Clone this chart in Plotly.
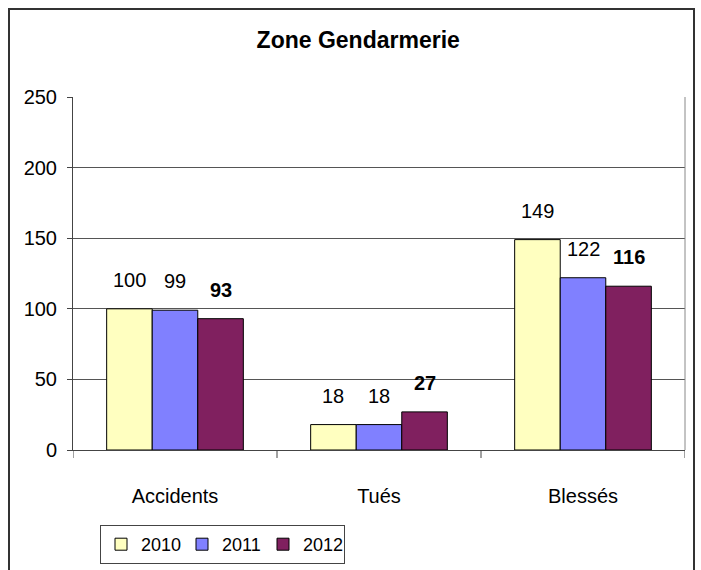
import plotly.graph_objects as go

categories = ["Accidents", "Tués", "Blessés"]
years = ["2010", "2011", "2012"]
values_2010 = [100, 18, 149]
values_2011 = [99, 18, 122]
values_2012 = [93, 27, 116]
y_ticks = [0, 50, 100, 150, 200, 250]

series = [values_2010, values_2011, values_2012]
colors = ["#FFFFC0", "#8080FF", "#80205F"]
bold = [False, False, True]

FONT = "Liberation Sans Narrow, Arial Narrow, Liberation Sans, Arial, sans-serif"
BARGAP = 0.33

fig = go.Figure()
for name, vals, col in zip(years, series, colors):
    fig.add_trace(go.Bar(
        x=list(range(len(categories))), y=vals, name=name,
        marker=dict(color=col, line=dict(color="black", width=1)),
    ))

# data labels above bars (offset computed from bar layout)
bw = (1 - BARGAP) / len(series)
for j, (vals, b) in enumerate(zip(series, bold)):
    for i, v in enumerate(vals):
        fig.add_annotation(
            x=i + (j - (len(series) - 1) / 2) * bw, y=v, xref="x", yref="y",
            text=f"<b>{v}</b>" if b else str(v), showarrow=False,
            yanchor="middle", yshift=29,
            font=dict(family=FONT, size=20, color="black"),
        )

L, R, T, B = 73, 16, 97, 120
W, H = 701, 570
pw, ph = W - L - R, H - T - B

# outer chart border
fig.add_shape(type="rect", xref="paper", yref="paper",
              x0=(9 - L) / pw, x1=(694 - L) / pw,
              y0=-(H + 30 - T - ph) / ph, y1=(T + ph - 9) / ph,
              line=dict(color="#333333", width=2), layer="below")

fig.update_layout(
    width=W, height=H,
    margin=dict(l=L, r=R, t=T, b=B, autoexpand=False),
    paper_bgcolor="white", plot_bgcolor="white",
    barmode="group", bargap=BARGAP, bargroupgap=0,
    title=dict(text="<b>Zone Gendarmerie</b>", x=0.511, xanchor="center",
               y=1 - 40 / H, yref="container", yanchor="middle",
               font=dict(family=FONT, size=23, color="black")),
    font=dict(family=FONT, color="black"),
    showlegend=True,
    legend=dict(orientation="h", x=(100 - L) / pw, y=-(525 - T - ph) / ph,
                xanchor="left", yanchor="top",
                bordercolor="#444444", borderwidth=1, bgcolor="white",
                font=dict(family=FONT, size=18, color="black"),
                itemwidth=30, entrywidth=36, entrywidthmode="pixels",
                traceorder="normal"),
    xaxis=dict(tickmode="array", tickvals=list(range(len(categories))),
               ticktext=categories, range=[-0.5, len(categories) - 0.5],
               showline=True, linecolor="#444444", linewidth=1,
               ticks="", tickcolor="#444444",
               tickfont=dict(family=FONT, size=20, color="black"),
               ticklabelstandoff=28, showgrid=False, zeroline=False),
    yaxis=dict(range=[0, 250], tickvals=y_ticks,
               showline=True, linecolor="#444444", linewidth=1,
               ticks="outside", ticklen=5, tickcolor="#444444",
               tickfont=dict(family=FONT, size=20, color="black"),
               ticklabelstandoff=6,
               showgrid=True, gridcolor="#555555", gridwidth=1,
               zeroline=False, mirror=False),
)

# right plot edge line
fig.add_shape(type="line", xref="paper", yref="paper", x0=1, x1=1, y0=0, y1=1,
              line=dict(color="#888888", width=1))
# category boundary ticks on x axis
for k in range(len(categories) + 1):
    fig.add_shape(type="line", xref="x", yref="paper", x0=k - 0.5, x1=k - 0.5,
                  y0=0, y1=-8 / ph, line=dict(color="#444444", width=1))

fig.write_html("out.html", config={"displayModeBar": False},
               post_script="document.body.style.margin='0px';document.body.style.overflow='hidden';")
